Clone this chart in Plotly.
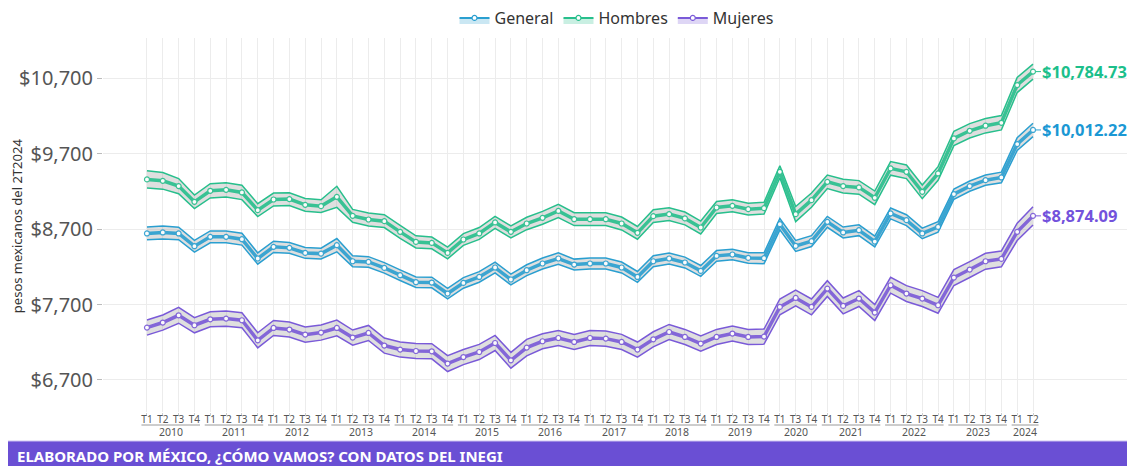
import plotly.graph_objects as go

# ---- Datos ----
anios = ([2010] * 4 + [2011] * 4 + [2012] * 4 + [2013] * 4 + [2014] * 4 + [2015] * 4 +
         [2016] * 4 + [2017] * 4 + [2018] * 4 + [2019] * 4 + [2020] * 3 + [2021] * 4 +
         [2022] * 4 + [2023] * 4 + [2024] * 2)
trimestres = (["T1", "T2", "T3", "T4"] * 10 + ["T1", "T3", "T4"] +
              ["T1", "T2", "T3", "T4"] * 3 + ["T1", "T2"])

general = [8641, 8654, 8641, 8472, 8596, 8596, 8565, 8309, 8464, 8450, 8383, 8374,
           8486, 8273, 8264, 8185, 8088, 7995, 7991, 7845, 7986, 8065, 8190, 8031,
           8154, 8243, 8309, 8229, 8243, 8243, 8190, 8065, 8273, 8309, 8256, 8145,
           8344, 8362, 8317, 8313, 8764, 8476, 8539, 8795, 8654, 8684, 8534, 8906,
           8817, 8641, 8728, 9162, 9268, 9347, 9383, 9825, 10012.22]
hombres = [9357, 9338, 9268, 9060, 9206, 9219, 9184, 8950, 9091, 9096, 9020, 9003,
           9126, 8874, 8826, 8804, 8662, 8529, 8516, 8383, 8561, 8641, 8787, 8662,
           8773, 8848, 8940, 8830, 8830, 8830, 8773, 8649, 8870, 8897, 8840, 8720,
           8985, 9007, 8963, 8976, 9458, 8897, 9082, 9325, 9268, 9251, 9113, 9503,
           9458, 9192, 9436, 9900, 10001, 10068, 10107, 10607, 10784.73]
mujeres = [7394, 7461, 7557, 7425, 7504, 7513, 7491, 7226, 7389, 7368, 7301, 7328,
           7389, 7262, 7323, 7156, 7103, 7084, 7080, 6917, 7004, 7071, 7190, 6961,
           7129, 7213, 7256, 7204, 7256, 7248, 7204, 7103, 7239, 7336, 7270, 7182,
           7270, 7315, 7270, 7275, 7668, 7787, 7668, 7911, 7681, 7779, 7593, 7955,
           7845, 7779, 7690, 8057, 8163, 8273, 8304, 8662, 8874.09]

# half-width of the confidence band (pesos)
margen_general = [85, 85, 82, 78, 78, 78, 78, 75, 75, 72, 72, 72, 88, 72, 70, 70,
                  70, 70, 70, 70, 70, 70, 72, 72, 72, 72, 75, 72, 72, 72, 72, 72,
                  72, 72, 72, 72, 70, 70, 70, 72, 75, 72, 72, 72, 72, 72, 72, 72,
                  72, 70, 70, 68, 68, 68, 70, 85, 88]
margen_hombres = [115, 110, 100, 90, 95, 95, 95, 85, 85, 85, 85, 85, 140, 85, 85, 85,
                  85, 80, 78, 78, 78, 78, 80, 80, 82, 85, 88, 85, 85, 85, 85, 85,
                  85, 85, 85, 85, 80, 80, 78, 78, 80, 100, 95, 90, 90, 90, 90, 90,
                  90, 90, 90, 95, 95, 95, 95, 100, 100]
margen_mujeres = [100, 100, 105, 100, 100, 100, 100, 100, 100, 100, 100, 100, 105, 100, 100, 100,
                  100, 100, 100, 105, 100, 100, 100, 105, 110, 100, 100, 100, 100, 100, 100, 100,
                  100, 100, 100, 100, 100, 100, 100, 100, 105, 105, 105, 105, 105, 105, 105, 105,
                  105, 105, 105, 105, 105, 105, 105, 115, 120]

y_ticks = [6700, 7700, 8700, 9700, 10700]
y_ticktext = ["$" + f"{v:,}" for v in y_ticks]

series = [
    ("General", general, margen_general, "#2a9fd0", "#1b98d4", "rgba(42,159,208,0.25)"),
    ("Hombres", hombres, margen_hombres, "#27bf8c", "#1cbf8b", "rgba(39,191,140,0.25)"),
    ("Mujeres", mujeres, margen_mujeres, "#7a5ad8", "#7352dc", "rgba(122,90,216,0.25)"),
]

x = list(range(len(trimestres)))
FONT = "Noto Sans"

fig = go.Figure()
for name, vals, marg, col, lab_col, tint in series:
    upper = [v + m for v, m in zip(vals, marg)]
    lower = [v - m for v, m in zip(vals, marg)]
    fig.add_trace(go.Scatter(x=x, y=upper, mode="lines", line=dict(color=col, width=1.5),
                             opacity=0.55, showlegend=False, legendgroup=name, hoverinfo="skip"))
    fig.add_trace(go.Scatter(x=x, y=lower, mode="lines", line=dict(color=col, width=1.5),
                             fill="tonexty", fillcolor="rgba(150,150,150,0.3)",
                             opacity=0.55, showlegend=False, legendgroup=name, hoverinfo="skip"))
    fig.add_trace(go.Scatter(x=x, y=vals, mode="lines+markers", name=name,
                             line=dict(color=col, width=3.5), opacity=0.9,
                             marker=dict(size=5, color="white", line=dict(color=col, width=1.2)),
                             showlegend=False, legendgroup=name))

for name, vals, marg, col, lab_col, tint in series:
    fig.add_trace(go.Scatter(x=[None], y=[None], name=name, mode="lines+markers",
                             fill="toself", fillcolor=tint, line=dict(color=col, width=2),
                             marker=dict(size=5, color="white", line=dict(color=col, width=1.2)),
                             legendgroup=name))
    fig.add_annotation(x=x[-1], y=vals[-1], xref="x", yref="y",
                       text=f"<b>${vals[-1]:,.2f}</b>", showarrow=True, ax=8, ay=0,
                       arrowhead=0, arrowwidth=1, arrowcolor=col, standoff=3,
                       xanchor="left", yanchor="middle", borderpad=0,
                       font=dict(family=FONT, size=16.5, color=lab_col))

# year labels and group underlines
unique_years = []
for a in anios:
    if a not in unique_years:
        unique_years.append(a)
for a in unique_years:
    idx = [i for i, v in enumerate(anios) if v == a]
    fig.add_shape(type="line", xref="x", yref="paper", x0=idx[0] - 0.35, x1=idx[-1] + 0.35,
                  y0=-0.0348, y1=-0.0348, line=dict(color="#9a9a9a", width=1))
    fig.add_annotation(x=(idx[0] + idx[-1]) / 2, y=-0.0535, xref="x", yref="paper",
                       text=str(a), showarrow=False, xanchor="center", yanchor="middle",
                       font=dict(family=FONT, size=10.5, color="#555555"))

# y-axis title
fig.add_annotation(x=-0.0837, y=0.497, xref="paper", yref="paper", text="pesos mexicanos del 2T2024",
                   textangle=-90, showarrow=False, xanchor="center", yanchor="middle",
                   font=dict(family=FONT, size=13, color="#333333"))

# footer banner
fig.add_shape(type="rect", xref="paper", yref="paper", x0=-0.11, x1=1.02, y0=-0.16, y1=-0.0775,
              fillcolor="#6a4fd4", line=dict(width=0), layer="above")
fig.add_shape(type="line", xref="paper", yref="paper", x0=-0.11, x1=1.02, y0=-0.0775, y1=-0.0775,
              line=dict(color="#cfc6f2", width=1), layer="above")
fig.add_annotation(x=-0.0857, y=-0.1176, xref="paper", yref="paper", xanchor="left",
                   yanchor="middle", showarrow=False,
                   text="<b>ELABORADO POR MÉXICO, ¿CÓMO VAMOS? CON DATOS DEL INEGI</b>",
                   font=dict(family=FONT, size=15, color="white"))

fig.update_layout(
    width=1127, height=458,
    margin=dict(l=95, r=5, t=30, b=54, autoexpand=False),
    paper_bgcolor="white", plot_bgcolor="white",
    font=dict(family=FONT, color="#444444"),
    showlegend=True,
    legend=dict(orientation="h", x=0.5, xanchor="center", y=1.0535, yanchor="middle",
                font=dict(family=FONT, size=16, color="#333333"), itemwidth=30,
                bgcolor="rgba(0,0,0,0)"),
    xaxis=dict(tickmode="array", tickvals=x, ticktext=trimestres, range=[-2.78, 62.13],
               showgrid=True, gridcolor="#ececec", gridwidth=1, zeroline=False,
               ticks="outside", ticklen=2, tickcolor="#cccccc", ticklabelstandoff=-4,
               tickfont=dict(family=FONT, size=10, color="#555555"), showline=False,
               automargin=False),
    yaxis=dict(tickmode="array", tickvals=y_ticks, ticktext=y_ticktext,
               range=[6276, 11230], showgrid=True, gridcolor="#ececec", gridwidth=1,
               zeroline=False, ticks="outside", ticklen=5, tickcolor="#bbbbbb",
               tickfont=dict(family=FONT, size=20, color="#555555"), showline=False,
               automargin=False),
)

fig.write_html("out.html")
